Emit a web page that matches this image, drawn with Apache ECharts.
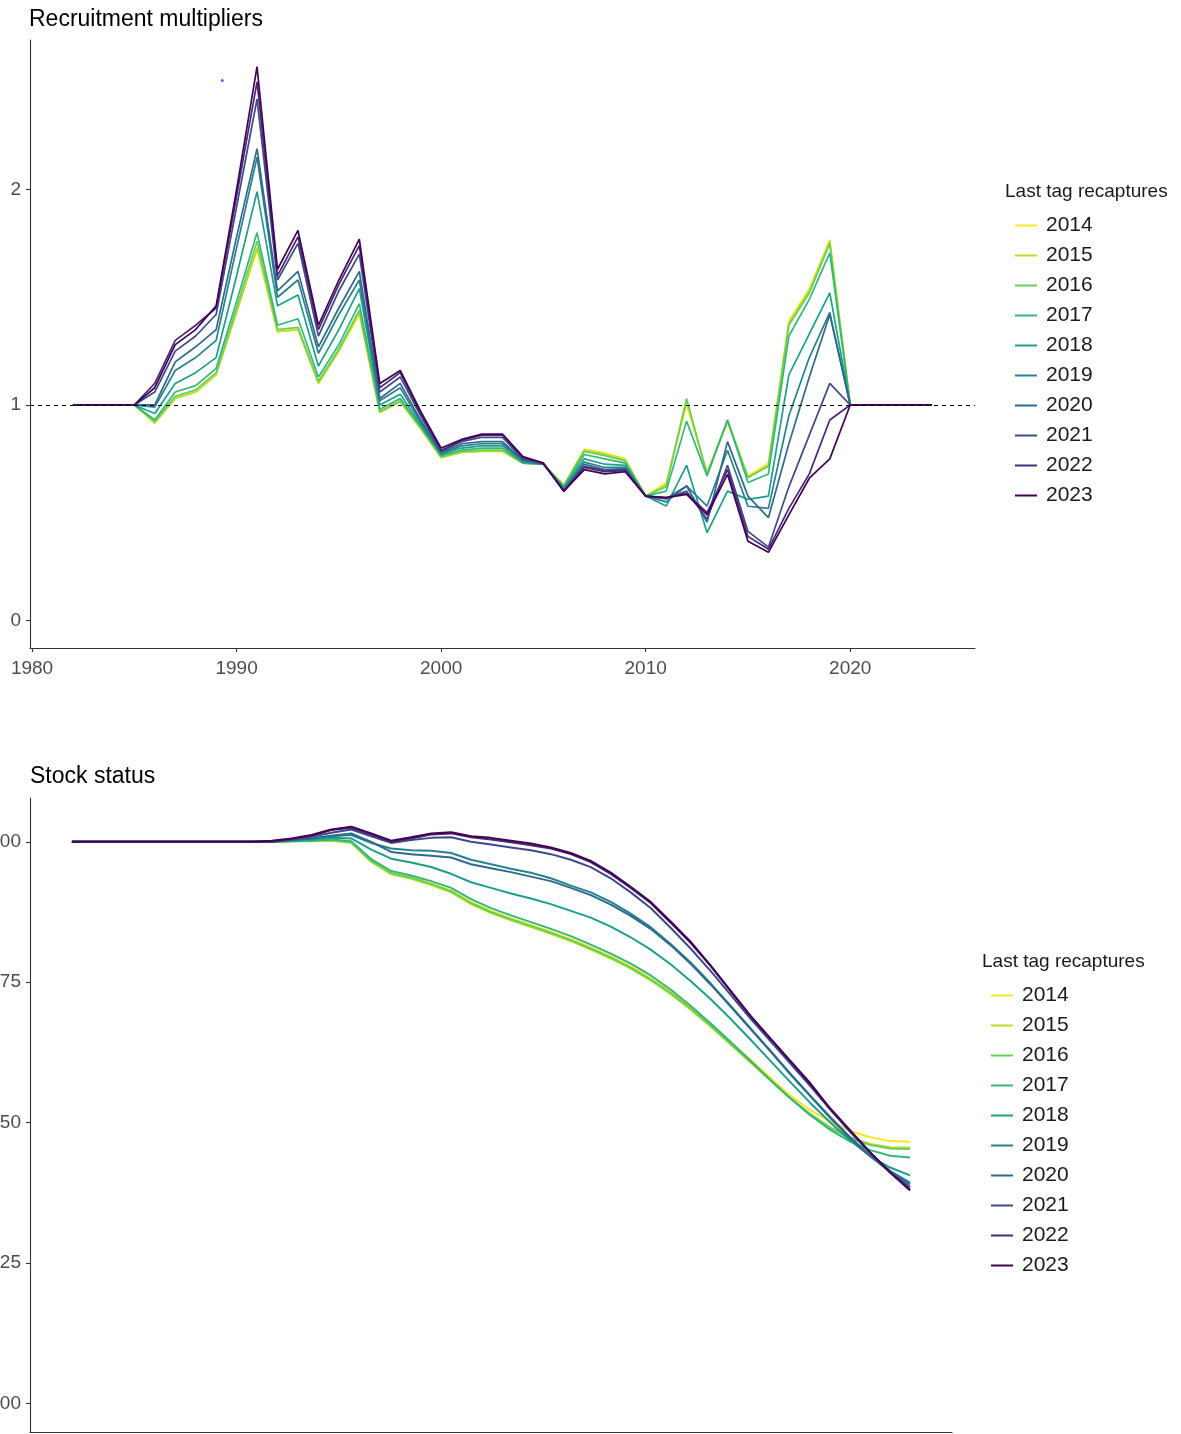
<!DOCTYPE html>
<html>
<head>
<meta charset="utf-8">
<script src="https://cdn.jsdelivr.net/npm/echarts@6/dist/echarts.min.js"></script>
<style>
html,body{margin:0;padding:0;background:#fff;}
#chart{width:1181px;height:1434px;}
</style>
</head>
<body>
<div id="chart"></div>
<script>
// ---------- data ----------
const years = [1982,1983,1984,1985,1986,1987,1988,1989,1990,1991,1992,1993,1994,1995,1996,1997,1998,1999,2000,2001,2002,2003,2004,2005,2006,2007,2008,2009,2010,2011,2012,2013,2014,2015,2016,2017,2018,2019,2020,2021,2022,2023,2024];
const seriesNames = ['2014','2015','2016','2017','2018','2019','2020','2021','2022','2023'];
const seriesColors = ['#FDE725','#B4DE2C','#6DCD59','#35B779','#1F9E89','#26828E','#31688E','#3E4A89','#482878','#440154'];

// Recruitment multipliers (1982..2024)
const rm2014 = [1,1,1,1, 0.92,1.03,1.06,1.14,1.43,1.72,1.34,1.35,1.10,1.25,1.42,0.965,1.015,0.89,0.755,0.78,0.785,0.785,0.73,0.725,0.628,0.795,0.778,0.75,0.577,0.64,1.00,0.685,0.92,0.67,0.73,1.39,1.54,1.768, 1,1,1,1,1];
const rm2015 = [1,1,1,1, 0.915,1.03,1.06,1.14,1.43,1.73,1.34,1.35,1.10,1.25,1.43,0.965,1.015,0.89,0.755,0.78,0.785,0.785,0.73,0.725,0.628,0.79,0.772,0.745,0.577,0.63,1.02,0.68,0.925,0.665,0.72,1.38,1.53,1.76, 1,1,1,1,1];
const rm2016 = [1,1,1,1, 0.925,1.04,1.07,1.15,1.45,1.76,1.35,1.36,1.11,1.26,1.44,0.97,1.02,0.895,0.76,0.785,0.79,0.79,0.73,0.725,0.625,0.785,0.765,0.74,0.577,0.62,1.03,0.678,0.93,0.663,0.716,1.37,1.52,1.75, 1,1,1,1,1];
const rm2017 = [1,1,1,1, 0.93,1.06,1.09,1.17,1.48,1.80,1.37,1.40,1.13,1.28,1.47,0.98,1.03,0.90,0.765,0.79,0.80,0.80,0.73,0.725,0.62,0.77,0.75,0.73,0.577,0.60,0.925,0.67,0.93,0.64,0.68,1.32,1.49,1.706, 1,1,1,1,1];
const rm2018 = [1,1,1,1, 0.96,1.10,1.15,1.22,1.60,1.99,1.46,1.51,1.18,1.35,1.54,1.00,1.05,0.91,0.77,0.80,0.81,0.81,0.735,0.725,0.615,0.75,0.725,0.72,0.577,0.531,0.72,0.407,0.60,0.562,0.577,1.14,1.33,1.52, 1,1,1,1,1];
const rm2019 = [1,1,1,1, 0.99,1.16,1.22,1.30,1.73,2.15,1.50,1.58,1.24,1.42,1.58,1.02,1.08,0.92,0.775,0.81,0.82,0.82,0.74,0.725,0.61,0.735,0.71,0.71,0.577,0.55,0.624,0.531,0.79,0.53,0.52,0.95,1.22,1.43, 1,1,1,1,1];
const rm2020 = [1,1,1,1, 1.00,1.20,1.27,1.35,1.78,2.19,1.53,1.62,1.27,1.45,1.62,1.03,1.10,0.93,0.78,0.82,0.83,0.83,0.745,0.725,0.605,0.725,0.70,0.705,0.577,0.565,0.624,0.456,0.83,0.577,0.477,0.82,1.13,1.42, 1,1,1,1,1];
const rm2021 = [1,1,1,1, 1.06,1.25,1.32,1.42,1.92,2.42,1.58,1.75,1.32,1.53,1.70,1.06,1.13,0.95,0.785,0.83,0.85,0.85,0.75,0.73,0.60,0.715,0.695,0.70,0.577,0.565,0.60,0.47,0.72,0.413,0.34,0.62,0.86,1.10, 1,1,1,1,1];
const rm2022 = [1,1,1,1, 1.10,1.30,1.37,1.45,1.97,2.50,1.60,1.78,1.35,1.56,1.74,1.08,1.15,0.96,0.79,0.835,0.86,0.86,0.755,0.73,0.60,0.71,0.69,0.695,0.577,0.57,0.59,0.50,0.70,0.39,0.33,0.52,0.68,0.93, 1,1,1,1,1];
const rm2023 = [1,1,1,1, 1.08,1.28,1.35,1.46,2.00,2.57,1.63,1.81,1.37,1.58,1.77,1.10,1.16,0.97,0.80,0.84,0.865,0.865,0.76,0.73,0.60,0.70,0.68,0.69,0.577,0.57,0.585,0.49,0.678,0.368,0.316,0.49,0.66,0.75, 1,1,1,1,1];

// Stock status (1982..2024)
const ss2014 = [1,1,1,1,1,1,1,1,1,1, 1.0,1.001,1.002,1.003,1.0,0.967,0.945,0.937,0.926,0.913,0.893,0.877,0.864,0.852,0.84,0.827,0.812,0.796,0.778,0.757,0.733,0.705,0.675,0.643,0.612,0.58,0.548,0.522,0.502,0.485,0.474,0.467,0.466];
const ss2015 = [1,1,1,1,1,1,1,1,1,1, 1.0,1.001,1.001,1.002,0.998,0.964,0.942,0.934,0.923,0.91,0.889,0.873,0.86,0.848,0.836,0.823,0.808,0.792,0.774,0.753,0.729,0.701,0.671,0.639,0.607,0.575,0.543,0.515,0.492,0.474,0.462,0.456,0.455];
const ss2016 = [1,1,1,1,1,1,1,1,1,1, 1.0,1.001,1.002,1.003,0.999,0.966,0.944,0.936,0.925,0.912,0.891,0.875,0.862,0.85,0.838,0.825,0.81,0.794,0.776,0.755,0.731,0.703,0.673,0.641,0.609,0.576,0.544,0.515,0.49,0.472,0.46,0.454,0.453];
const ss2017 = [1,1,1,1,1,1,1,1,1,1, 1.0,1.001,1.002,1.004,1.001,0.969,0.948,0.94,0.93,0.918,0.898,0.882,0.869,0.857,0.845,0.832,0.817,0.801,0.783,0.762,0.737,0.708,0.677,0.644,0.61,0.576,0.543,0.513,0.487,0.466,0.451,0.441,0.438];
const ss2018 = [1,1,1,1,1,1,1,1,1,1, 1.0,1.002,1.004,1.007,1.006,0.986,0.97,0.963,0.955,0.943,0.928,0.918,0.908,0.899,0.889,0.877,0.865,0.849,0.83,0.808,0.782,0.752,0.72,0.685,0.648,0.61,0.572,0.535,0.5,0.468,0.44,0.42,0.406];
const ss2019 = [1,1,1,1,1,1,1,1,1,1, 1.0,1.003,1.006,1.01,1.012,0.998,0.988,0.985,0.984,0.98,0.968,0.96,0.952,0.945,0.935,0.922,0.91,0.893,0.872,0.848,0.818,0.785,0.748,0.708,0.668,0.628,0.587,0.548,0.51,0.474,0.442,0.414,0.393];
const ss2020 = [1,1,1,1,1,1,1,1,1,1, 1.0,1.003,1.006,1.011,1.015,1.0,0.982,0.978,0.975,0.972,0.96,0.953,0.946,0.938,0.93,0.918,0.905,0.888,0.868,0.845,0.816,0.783,0.746,0.707,0.667,0.627,0.586,0.547,0.508,0.472,0.44,0.412,0.39];
const ss2021 = [1,1,1,1,1,1,1,1,1,1, 1.0,1.004,1.009,1.016,1.022,1.01,0.998,1.003,1.007,1.008,1.0,0.995,0.99,0.985,0.978,0.968,0.955,0.935,0.91,0.882,0.847,0.81,0.77,0.728,0.685,0.645,0.605,0.565,0.523,0.483,0.446,0.412,0.385];
const ss2022 = [1,1,1,1,1,1,1,1,1,1, 1.0,1.005,1.011,1.021,1.025,1.013,1.0,1.006,1.013,1.015,1.008,1.004,0.999,0.994,0.988,0.978,0.964,0.943,0.918,0.891,0.856,0.82,0.779,0.734,0.69,0.649,0.609,0.568,0.524,0.485,0.447,0.411,0.381];
const ss2023 = [1,1,1,1,1,1,1,1,1,1, 1.002,1.006,1.012,1.022,1.027,1.015,1.002,1.008,1.015,1.017,1.01,1.007,1.002,0.997,0.99,0.98,0.966,0.945,0.92,0.893,0.858,0.822,0.78,0.735,0.69,0.65,0.61,0.57,0.525,0.486,0.447,0.411,0.379];

const rmSeries = [rm2014,rm2015,rm2016,rm2017,rm2018,rm2019,rm2020,rm2021,rm2022,rm2023];
const ssSeries = [ss2014,ss2015,ss2016,ss2017,ss2018,ss2019,ss2020,ss2021,ss2022,ss2023];

const xTicks = [1980,1990,2000,2010,2020];
const rmYTicks = [0,1,2];
const ssYTicks = [0,0.25,0.5,0.75,1];
const strayPoint = [[1989.3, 2.506]];
const referenceLevel = 1;

// ---------- chart ----------
const FONT = 'Liberation Sans, Arial, sans-serif';
const chart = echarts.init(document.getElementById('chart'), null, {renderer:'canvas'});

const axisLineStyle = {show:true, onZero:false, lineStyle:{color:'#333333', width:1.1}};
const axisTickStyle = {show:true, length:4, lineStyle:{color:'#333333', width:1.1}};
const axisLabelStyle = {color:'#4d4d4d', fontSize:19, fontFamily:FONT, margin:9};

const series = [];
rmSeries.forEach((arr, i) => {
  const s = {
    name: seriesNames[i], type:'line', xAxisIndex:0, yAxisIndex:0,
    data: years.map((y, k) => [y, arr[k]]),
    symbol:'none', showSymbol:false, animation:false,
    lineStyle:{width:1.7, color:seriesColors[i]},
    itemStyle:{color:seriesColors[i]}
  };
  if (i === 0) {
    s.markLine = {
      silent:true, symbol:'none', animation:false,
      label:{show:false},
      lineStyle:{color:'#000', type:[4,4], width:1},
      data:[{yAxis:referenceLevel}]
    };
  }
  series.push(s);
});
series.push({
  type:'scatter', xAxisIndex:0, yAxisIndex:0, data:strayPoint,
  symbolSize:3, itemStyle:{color:'#1f3fff'}, silent:true, animation:false
});
ssSeries.forEach((arr, i) => {
  series.push({
    name: seriesNames[i], type:'line', xAxisIndex:1, yAxisIndex:1,
    data: years.map((y, k) => [y, arr[k]]),
    symbol:'none', showSymbol:false, animation:false,
    lineStyle:{width:2, color:seriesColors[i]},
    itemStyle:{color:seriesColors[i]}
  });
});

const legendCommon = {
  orient:'vertical', icon:'rect', itemWidth:22, itemHeight:2, itemGap:9,
  selectedMode:false,
  data: seriesNames,
  textStyle:{fontSize:21, fontFamily:FONT, color:'#1a1a1a', lineHeight:21, padding:[0,0,0,4]}
};

chart.setOption({
  backgroundColor:'#ffffff',
  animation:false,
  title:[
    {text:'Recruitment multipliers', left:24, top:3, textStyle:{fontSize:23, fontWeight:'normal', fontFamily:FONT, color:'#000'}},
    {text:'Stock status', left:25, top:760, textStyle:{fontSize:23, fontWeight:'normal', fontFamily:FONT, color:'#000'}},
    {text:'Last tag recaptures', left:1000, top:177, textStyle:{fontSize:19, fontWeight:'normal', fontFamily:FONT, color:'#1a1a1a'}},
    {text:'Last tag recaptures', left:977, top:947, textStyle:{fontSize:19, fontWeight:'normal', fontFamily:FONT, color:'#1a1a1a'}}
  ],
  legend:[
    Object.assign({}, legendCommon, {left:1010, top:210}),
    Object.assign({}, legendCommon, {left:986, top:980})
  ],
  grid:[
    {left:30, right:206, top:40, height:608, outerBoundsMode:'none'},
    {left:30, right:229, top:798, height:634, outerBoundsMode:'none'}
  ],
  xAxis:[
    {type:'value', gridIndex:0, min:1979.9, max:2026.1,
     axisLine:axisLineStyle,
     axisTick:Object.assign({}, axisTickStyle, {customValues:xTicks}),
     axisLabel:Object.assign({}, axisLabelStyle, {customValues:xTicks, margin:11, formatter:v => String(v)}),
     splitLine:{show:false}},
    {type:'value', gridIndex:1, min:1979.9, max:2026.1,
     axisLine:axisLineStyle,
     axisTick:{show:false},
     axisLabel:{show:false},
     splitLine:{show:false}}
  ],
  yAxis:[
    {type:'value', gridIndex:0, min:-0.128, max:2.694,
     axisLine:axisLineStyle,
     axisTick:Object.assign({}, axisTickStyle, {customValues:rmYTicks}),
     axisLabel:Object.assign({}, axisLabelStyle, {customValues:rmYTicks}),
     splitLine:{show:false}},
    {type:'value', gridIndex:1, min:-0.051, max:1.078,
     axisLine:axisLineStyle,
     axisTick:Object.assign({}, axisTickStyle, {customValues:ssYTicks}),
     axisLabel:Object.assign({}, axisLabelStyle, {customValues:ssYTicks, formatter:v => v.toFixed(2)}),
     splitLine:{show:false}}
  ],
  series: series
});
</script>
</body>
</html>
